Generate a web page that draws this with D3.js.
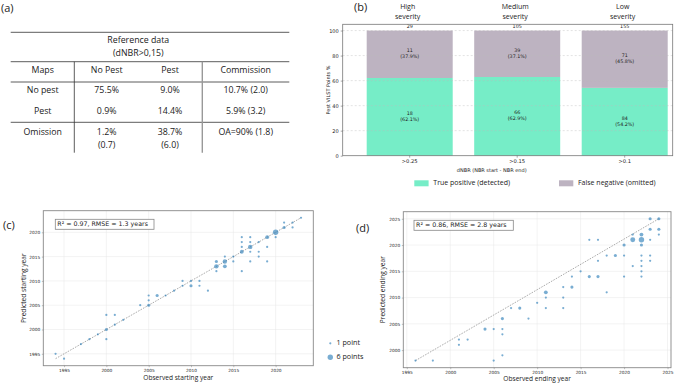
<!DOCTYPE html>
<html>
<head>
<meta charset="utf-8">
<script src="https://cdn.jsdelivr.net/npm/d3@7"></script>
<style>
  body { margin: 0; background: #fff; }
  svg { display: block; }
  text { fill: #222; }
</style>
</head>
<body>
<svg id="fig" width="685" height="384"></svg>
<script>
// ---- data ----
// (a) confusion table
const tableHeader = ["Reference data", "(dNBR>0,15)"];
const tableCols = ["Maps", "No Pest", "Pest", "Commission"];
const tableRows = [
  ["No pest", "75.5%", "9.0%", "10.7% (2.0)"],
  ["Pest", "0.9%", "14.4%", "5.9% (3.2)"],
  ["Omission", "1.2%|(0.7)", "38.7%|(6.0)", "OA=90% (1.8)"],
];

// (b) detection by severity
const severity = ["High|severity", "Medium|severity", "Low|severity"];
const thresholds = [">0.25", ">0.15", ">0.1"];
const detected = [18, 66, 84];
const omitted = [11, 39, 71];
const detectedPct = [62.1, 62.9, 54.2];
const omittedPct = [37.9, 37.1, 45.8];

// (c) starting year: [observed, predicted, count]
const startPts = [
  [1994, 1995, 1], [1995, 1994, 1], [1997, 1997, 1], [1998, 1998, 1], [1999, 1999, 1],
  [2000, 2000, 2], [2000, 2003, 1], [2000, 1998, 1], [2001, 2001, 1], [2001, 2003, 1],
  [2002, 2002, 1], [2004, 2005, 1], [2005, 2005, 2], [2005, 2006, 1], [2005, 2007, 1],
  [2006, 2007, 2], [2007, 2007, 1], [2008, 2008, 1], [2009, 2009, 1], [2009, 2010, 1],
  [2010, 2010, 1], [2010, 2009, 2], [2011, 2010, 1], [2011, 2009, 1], [2012, 2008, 1],
  [2013, 2013, 4], [2013, 2014, 2], [2013, 2012, 1], [2014, 2014, 4], [2014, 2013, 3],
  [2014, 2015, 1], [2015, 2014, 1], [2015, 2015, 1], [2016, 2016, 3], [2016, 2017, 1],
  [2016, 2018, 1], [2016, 2019, 1], [2016, 2012, 1], [2017, 2017, 4], [2017, 2019, 1],
  [2017, 2018, 1], [2017, 2016, 1], [2017, 2014, 1], [2018, 2018, 1], [2018, 2016, 1],
  [2018, 2015, 1], [2019, 2019, 3], [2019, 2017, 1], [2019, 2014, 1], [2020, 2020, 6],
  [2020, 2019, 1], [2021, 2021, 2], [2021, 2022, 1], [2022, 2022, 1], [2022, 2021, 1],
  [2023, 2023, 1],
];
const startLine = [[1994, 1994], [2023, 2023]];
const startStats = "R\u00b2 = 0.97, RMSE = 1.3 years";

// (d) ending year: [observed, predicted, count]
const endPts = [
  [1996, 1998, 1], [1998, 1998, 1], [2001, 2002, 1], [2001, 2001, 1], [2002, 2002, 1],
  [2004, 2004, 2], [2005, 2004, 1], [2005, 1998, 1], [2006, 2006, 2], [2006, 2004, 1],
  [2006, 2003, 1], [2006, 1999, 1], [2007, 2008, 1], [2008, 2008, 2], [2009, 2006, 1],
  [2010, 2009, 1], [2011, 2011, 3], [2011, 2010, 1], [2011, 2008, 1], [2013, 2012, 1],
  [2013, 2010, 1], [2013, 2008, 1], [2014, 2014, 1], [2014, 2012, 2], [2015, 2015, 1],
  [2016, 2021, 1], [2016, 2014, 2], [2017, 2021, 1], [2017, 2017, 1], [2017, 2014, 2],
  [2018, 2018, 1], [2018, 2011, 1], [2019, 2018, 2], [2020, 2020, 2], [2020, 2018, 1],
  [2020, 2014, 1], [2021, 2021, 5], [2021, 2022, 1], [2021, 2016, 1], [2022, 2021, 6],
  [2022, 2022, 3], [2022, 2020, 2], [2022, 2018, 1], [2022, 2017, 1], [2022, 2016, 1],
  [2022, 2015, 1], [2022, 2014, 1], [2023, 2025, 2], [2023, 2023, 2], [2023, 2021, 1],
  [2023, 2018, 1], [2023, 2017, 1], [2024, 2025, 2], [2024, 2023, 2], [2024, 2022, 1],
];
const endLine = [[1996, 1998], [2024, 2025]];
const endStats = "R\u00b2 = 0.86, RMSE = 2.8 years";

const legendCounts = [1, 6];

// ---- styles ----
const SANS = "'Open Sans', 'Liberation Sans', sans-serif";
const MPL = "'DejaVu Sans', sans-serif";
const GREEN = "#76edc7";
const MAUVE = "#bdb3c1";
const DOT = "#1f77b4";

const svg = d3.select("#fig");

function panelLabel(x, y, t) {
  svg.append("text").attr("x", x).attr("y", y).attr("font-family", SANS)
    .attr("font-size", 11).attr("dominant-baseline", "middle").text(t);
}

function multiline(g, x, y, str, lh) {
  const parts = str.split("|");
  const t = g.append("text").attr("x", x).attr("y", y).attr("text-anchor", "middle");
  parts.forEach((p, i) => {
    t.append("tspan").attr("x", x).attr("dy", i === 0 ? -(parts.length - 1) * lh / 2 : lh).text(p);
  });
  return t;
}

// ================= (a) table =================
panelLabel(1, 9, "(a)");
{
  const g = svg.append("g").attr("font-family", SANS).attr("font-size", 8.8)
    .attr("dominant-baseline", "middle");
  const edges = [10.7, 74.3, 138.3, 202.3, 289.3];
  const colX = [42.7, 106.7, 170, 245.7];
  const rowY = [90.7, 111.7, 132.3];

  const hline = (y) => g.append("line").attr("x1", edges[0]).attr("x2", edges[4])
    .attr("y1", y).attr("y2", y).attr("stroke", "#333").attr("stroke-width", 0.8);
  hline(32.3);
  hline(61.7);
  hline(82);
  hline(122.3);
  g.append("line").attr("x1", edges[1]).attr("x2", edges[1]).attr("y1", 61.7).attr("y2", 152.7)
    .attr("stroke", "#333").attr("stroke-width", 0.8);
  g.append("line").attr("x1", edges[3]).attr("x2", edges[3]).attr("y1", 61.7).attr("y2", 152.7)
    .attr("stroke", "#999").attr("stroke-width", 1.4);

  const hx = (edges[1] + edges[3]) / 2;
  g.append("text").attr("x", hx).attr("y", 41).attr("text-anchor", "middle").text(tableHeader[0]);
  g.append("text").attr("x", hx).attr("y", 53.5).attr("text-anchor", "middle").text(tableHeader[1]);

  tableCols.forEach((c, i) => {
    g.append("text").attr("x", colX[i]).attr("y", 70.5).attr("text-anchor", "middle").text(c);
  });
  tableRows.forEach((row, r) => {
    row.forEach((cell, i) => {
      cell.split("|").forEach((p, k) => {
        g.append("text").attr("x", colX[i]).attr("y", rowY[r] + k * 13)
          .attr("text-anchor", "middle").text(p);
      });
    });
  });
}

// ================= (b) stacked bars =================
panelLabel(354, 8, "(b)");
{
  const left = 342.7, right = 672.7, top = 24.3, bottom = 155.7;
  const g = svg.append("g").attr("font-family", MPL);

  const x = d3.scaleBand().domain(thresholds).range([366.7, 667.7]).paddingInner(0.2).paddingOuter(0);
  const y = d3.scaleLinear().domain([0, 105]).range([bottom, top]);

  // bars
  thresholds.forEach((t, i) => {
    g.append("rect").attr("x", x(t)).attr("width", x.bandwidth())
      .attr("y", y(detectedPct[i])).attr("height", y(0) - y(detectedPct[i])).attr("fill", GREEN);
    g.append("rect").attr("x", x(t)).attr("width", x.bandwidth())
      .attr("y", y(100)).attr("height", y(detectedPct[i]) - y(100)).attr("fill", MAUVE);
  });

  // grid
  g.append("g").selectAll("line").data([20, 40, 60, 80, 100]).join("line")
    .attr("x1", left).attr("x2", right).attr("y1", d => y(d)).attr("y2", d => y(d))
    .attr("stroke", "#bbb").attr("stroke-opacity", 0.7).attr("stroke-width", 0.6)
    .attr("stroke-dasharray", "2,2");

  // labels inside bars
  const lg = g.append("g").attr("font-size", 4.8).attr("dominant-baseline", "middle");
  thresholds.forEach((t, i) => {
    const cx = x(t) + x.bandwidth() / 2;
    multiline(lg, cx, y(detectedPct[i] / 2), `${detected[i]}|(${detectedPct[i].toFixed(1)}%)`, 6.3);
    multiline(lg, cx, y(detectedPct[i] + omittedPct[i] / 2), `${omitted[i]}|(${omittedPct[i].toFixed(1)}%)`, 6.3);
    lg.append("text").attr("x", cx).attr("y", y(100) - 3.4).attr("text-anchor", "middle")
      .text(detected[i] + omitted[i]);
  });

  // frame
  g.append("rect").attr("x", left).attr("y", top).attr("width", right - left).attr("height", bottom - top)
    .attr("fill", "none").attr("stroke", "#777").attr("stroke-width", 0.8);

  // axes
  const ax = g.append("g").attr("transform", `translate(${left},0)`)
    .call(d3.axisLeft(y).tickValues([0, 20, 40, 60, 80, 100]).tickSize(2).tickPadding(2));
  ax.select(".domain").remove();
  ax.selectAll("text").attr("font-size", 5).attr("font-family", MPL);
  ax.selectAll("line").attr("stroke", "#555").attr("stroke-width", 0.5);

  const bx = g.append("g").attr("transform", `translate(0,${bottom})`)
    .call(d3.axisBottom(x).tickSize(2).tickPadding(2));
  bx.select(".domain").remove();
  bx.selectAll("text").attr("font-size", 5.2).attr("font-family", MPL);
  bx.selectAll("line").attr("stroke", "#555").attr("stroke-width", 0.5);

  g.append("text").attr("transform", `translate(330,${(top + bottom) / 2}) rotate(-90)`)
    .attr("text-anchor", "middle").attr("font-size", 5).text("Pest VILST Points %");
  g.append("text").attr("x", (left + right) / 2 - 16).attr("y", 171)
    .attr("text-anchor", "middle").attr("dominant-baseline", "middle").attr("font-size", 5)
    .text("dNBR (NBR start - NBR end)");

  // severity titles
  const sg = g.append("g").attr("font-family", SANS).attr("font-size", 7).attr("dominant-baseline", "middle");
  thresholds.forEach((t, i) => {
    multiline(sg, x(t) + x.bandwidth() / 2 - 2, 11.5, severity[i], 10);
  });

  // legend
  const leg = [["True positive (detected)", GREEN, 414.3], ["False negative (omitted)", MAUVE, 559]];
  leg.forEach(([label, c, lx]) => {
    svg.append("rect").attr("x", lx).attr("y", 180.3).attr("width", 14.3).attr("height", 6)
      .attr("fill", c);
    svg.append("text").attr("x", lx + 19).attr("y", 183.5).attr("font-family", SANS)
      .attr("font-size", 7).attr("dominant-baseline", "middle").text(label);
  });
}

// ================= scatter panels =================
const rScale = d3.scaleSqrt().domain([0, 6]).range([0, 2.7]);

function scatter(opts) {
  const { pts, line, stats, xDom, yDom, xr, yr, xTicks, yTicks, xLabel, yLabel, yLabelX, statBox, xLabelY } = opts;
  const x = d3.scaleLinear().domain(xDom).range(xr);
  const y = d3.scaleLinear().domain(yDom).range(yr);
  const g = svg.append("g").attr("font-family", MPL);

  // grid
  g.append("g").selectAll("line").data(xTicks).join("line")
    .attr("x1", d => x(d)).attr("x2", d => x(d)).attr("y1", yr[0]).attr("y2", yr[1])
    .attr("stroke", "#e6e6e6").attr("stroke-width", 0.5);
  g.append("g").selectAll("line").data(yTicks).join("line")
    .attr("y1", d => y(d)).attr("y2", d => y(d)).attr("x1", xr[0]).attr("x2", xr[1])
    .attr("stroke", "#e6e6e6").attr("stroke-width", 0.5);

  // 1:1 / fit line
  g.append("line")
    .attr("x1", x(line[0][0])).attr("y1", y(line[0][1]))
    .attr("x2", x(line[1][0])).attr("y2", y(line[1][1]))
    .attr("stroke", "#888").attr("stroke-width", 0.7).attr("stroke-dasharray", "1.6,1.2");

  // points
  g.append("g").selectAll("circle").data(pts).join("circle")
    .attr("cx", d => x(d[0])).attr("cy", d => y(d[1])).attr("r", d => rScale(d[2]))
    .attr("fill", DOT).attr("fill-opacity", 0.6);

  // frame
  g.append("rect").attr("x", xr[0]).attr("y", yr[1]).attr("width", xr[1] - xr[0]).attr("height", yr[0] - yr[1])
    .attr("fill", "none").attr("stroke", "#888").attr("stroke-width", 0.9);

  const ax = g.append("g").attr("transform", `translate(0,${yr[0]})`)
    .call(d3.axisBottom(x).tickValues(xTicks).tickFormat(d3.format("d")).tickSize(1.5).tickPadding(1.5));
  ax.select(".domain").remove();
  ax.selectAll("text").attr("font-size", 4.3).attr("font-family", MPL);
  ax.selectAll("line").attr("stroke", "#666").attr("stroke-width", 0.4);

  const ay = g.append("g").attr("transform", `translate(${xr[0]},0)`)
    .call(d3.axisLeft(y).tickValues(yTicks).tickFormat(d3.format("d")).tickSize(1.5).tickPadding(1.5));
  ay.select(".domain").remove();
  ay.selectAll("text").attr("font-size", 4.3).attr("font-family", MPL);
  ay.selectAll("line").attr("stroke", "#666").attr("stroke-width", 0.4);

  g.append("text").attr("x", (xr[0] + xr[1]) / 2).attr("y", xLabelY).attr("text-anchor", "middle")
    .attr("dominant-baseline", "middle").attr("font-family", SANS).attr("font-size", 6.6).text(xLabel);
  g.append("text").attr("transform", `translate(${yLabelX},${(yr[0] + yr[1]) / 2}) rotate(-90)`)
    .attr("text-anchor", "middle").attr("dominant-baseline", "middle")
    .attr("font-family", SANS).attr("font-size", 6.6).text(yLabel);

  // stats box
  g.append("rect").attr("x", statBox[0]).attr("y", statBox[1]).attr("width", statBox[2]).attr("height", 10)
    .attr("fill", "#fff").attr("stroke", "#888").attr("stroke-width", 0.8);
  g.append("text").attr("x", statBox[0] + 2).attr("y", statBox[1] + 5.3).attr("dominant-baseline", "middle")
    .attr("font-size", 6.3).text(stats);
}

panelLabel(3, 226, "(c)");
scatter({
  pts: startPts, line: startLine, stats: startStats,
  xDom: [1992.55, 2024.45], yDom: [1992.55, 2024.45],
  xr: [43.3, 313.3], yr: [365.7, 210.7],
  xTicks: d3.range(1995, 2021, 5), yTicks: d3.range(1995, 2021, 5),
  xLabel: "Observed starting year", yLabel: "Predicted starting year",
  yLabelX: 24, xLabelY: 378, statBox: [55.3, 219.3, 98.7],
});

panelLabel(356, 229.5, "(d)");
scatter({
  pts: endPts, line: endLine, stats: endStats,
  xDom: [1994.6, 2025.4], yDom: [1996.65, 2026.35],
  xr: [403.3, 671], yr: [367.7, 211.7],
  xTicks: d3.range(1995, 2026, 5), yTicks: d3.range(2000, 2026, 5),
  xLabel: "Observed ending year", yLabel: "Predicted ending year",
  yLabelX: 383.5, xLabelY: 379.5, statBox: [414, 220.3, 99.3],
});

// size legend
{
  const lg = svg.append("g").attr("font-family", SANS).attr("font-size", 7.2);
  legendCounts.forEach((n, i) => {
    const cy = 343.3 + i * 14;
    lg.append("circle").attr("cx", 330.3).attr("cy", cy).attr("r", rScale(n))
      .attr("fill", DOT).attr("fill-opacity", 0.6);
    lg.append("text").attr("x", 336.5).attr("y", cy).attr("dominant-baseline", "middle")
      .text(`${n} point${n > 1 ? "s" : ""}`);
  });
}
</script>
</body>
</html>
